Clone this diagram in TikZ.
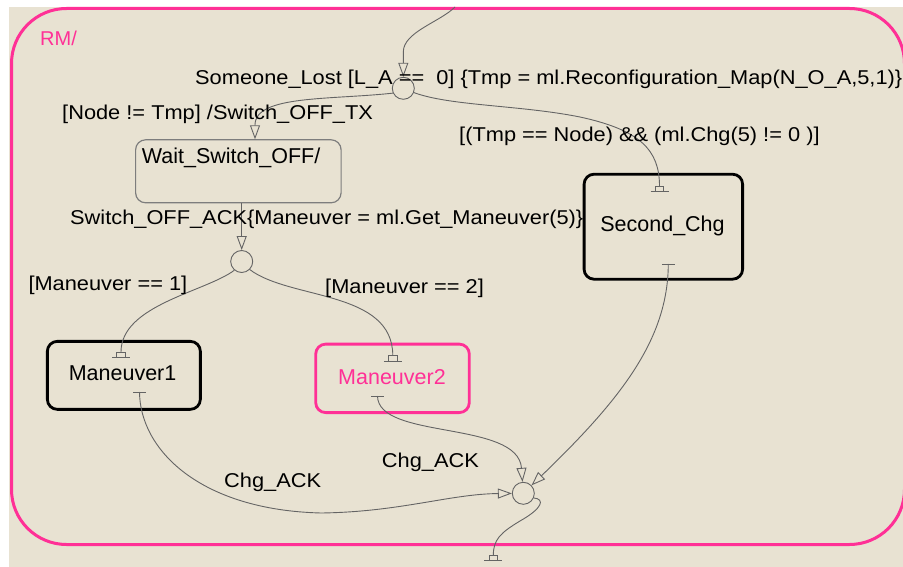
\documentclass[tikz,border=0pt]{standalone}
\usepackage{fontspec}
\setmainfont{Liberation Sans}
\newfontfamily\labelfont[FakeStretch=1.09]{Liberation Sans}
\usetikzlibrary{arrows.meta,calc}

\definecolor{sfbeige}{RGB}{232,226,210}
\definecolor{sfpink}{RGB}{255,48,150}
\definecolor{sfgrey}{RGB}{100,100,100}
\definecolor{sfboxgrey}{RGB}{125,125,125}

\tikzset{
  conn/.style={draw=sfgrey, line width=0.9pt},
  arr/.style={-{Triangle[open,length=14pt,width=10pt]}},
  junction/.style={circle, draw=sfgrey, line width=0.9pt, minimum size=22pt, inner sep=0pt},
  stbox/.style={rectangle, rounded corners=10pt, inner sep=0pt},
  lab/.style={anchor=base west, inner sep=0pt, font=\labelfont\fontsize{20}{24}\selectfont},
  sname/.style={anchor=base, inner sep=0pt, font=\fontsize{21.5}{26}\selectfont},
  entrymark/.pic={
    \draw[conn] (-4.2,0) rectangle (4.2,5.3);
    \draw[conn] (-9,5.3) -- (9,5.3);
  },
  exitmark/.pic={
    \draw[conn] (-6.5,0) -- (6.5,0);
  }
}

\begin{document}
\begin{tikzpicture}[x=1pt,y=-1pt]
  \useasboundingbox (0,0) rectangle (903,567);
  % canvas
  \fill[white] (0,0) rectangle (903,567);
  \fill[sfbeige] (9,7) rectangle (903,567);

  % parent state RM
  \node[stbox, rounded corners=55pt, draw=sfpink, line width=3pt,
        minimum width=893pt, minimum height=536pt] (rm) at (458,276.5) {};
  \node[anchor=base west, inner sep=0pt, text=sfpink,
        font=\fontsize{20}{24}\selectfont] (rmname) at (40,46) {RM/};

  % child states
  \node[stbox, draw=sfboxgrey, line width=1.2pt,
        minimum width=205.5pt, minimum height=63pt] (wait) at (238.35,171.3) {};
  \node[anchor=base west, inner sep=0pt, font=\fontsize{21.5}{26}\selectfont]
        (waitname) at (141.7,164) {Wait\_Switch\_OFF/};

  \node[stbox, draw=black, line width=2.8pt,
        minimum width=158.5pt, minimum height=105pt] (sc) at (663.35,226.7) {};
  \node[sname] (scname) at (662.5,231.7) {Second\_Chg};

  \node[stbox, draw=black, line width=2.8pt,
        minimum width=153pt, minimum height=68pt] (m1) at (123.85,375.35) {};
  \node[sname] (m1name) at (122.6,380) {Maneuver1};

  \node[stbox, draw=sfpink, line width=2.8pt,
        minimum width=153.6pt, minimum height=68.5pt] (m2) at (392.5,378.35) {};
  \node[sname, text=sfpink] (m2name) at (392,384) {Maneuver2};

  % junctions
  \node[junction] (j1) at (403.3,88.3) {};
  \node[junction] (j2) at (241.7,261.5) {};
  \node[junction] (j3) at (523.3,493.3) {};

  % transition end points
  \coordinate (topsrc) at (455,7);
  \coordinate (waitin) at (255,139.3);
  \coordinate (scin) at (659.5,186);
  \coordinate (m1in) at (121,352);
  \coordinate (m2in) at (392.8,355.7);
  \coordinate (finalin) at (493.3,555.4);
  \coordinate (m1out) at (139.5,392);
  \coordinate (m2out) at (377.5,396);
  \coordinate (scout) at (668.3,264);

  \pic at (scin) {entrymark};
  \pic at (m1in) {entrymark};
  \pic at (m2in) {entrymark};
  \pic at (finalin) {entrymark};
  \pic at (m1out) {exitmark};
  \pic at (m2out) {exitmark};
  \pic at (scout) {exitmark};

  % transitions
  \draw[conn,arr] (topsrc) .. controls (440,22) and (403.3,32) .. (403.3,52) -- (j1);
  \draw[conn,arr] (j1.205) .. controls (330,100) and (255,95) .. (255,125) -- (waitin);
  \draw[conn] (j1.-22) .. controls (450,106) and (520,105) .. (580,117)
              .. controls (640,130) and (659.5,150) .. (scin);
  \draw[conn,arr] (wait.south -| j2) -- (j2);
  \draw[conn] (j2.230) .. controls (205,292) and (121,305) .. (m1in);
  \draw[conn] (j2.-45) .. controls (290,300) and (392.8,290) .. (m2in);
  \draw[conn,arr] (m1out) .. controls (140,450) and (200,510) .. (321,513)
              .. controls (400,512) and (450,494) .. (j3);
  \draw[conn,arr] (m2out) .. controls (378,440) and (518,420) .. (j3);
  \draw[conn,arr] (scout) .. controls (668,340) and (620,400) .. (j3);
  \draw[conn] (j3.-24) .. controls (545,499) and (543,508) .. (520,521)
              .. controls (500,533) and (493.3,540) .. (finalin);

  % transition labels
  \node[lab] (t1) at (195,85)
    {Someone\_Lost [L\_A ==\ \ 0] \{Tmp = ml.Reconfiguration\_Map(N\_O\_A,5,1)\}};
  \node[lab] (t2) at (62,120) {[Node != Tmp] /Switch\_OFF\_TX};
  \node[lab] (t3) at (459,142) {[(Tmp == Node) \&\& (ml.Chg(5) != 0 )]};
  \node[lab] (t4) at (70,225) {Switch\_OFF\_ACK\{Maneuver = ml.Get\_Maneuver(5)\}};
  \node[lab] (t5) at (28.3,290.5) {[Maneuver == 1]};
  \node[lab] (t6) at (325,293) {[Maneuver == 2]};
  \node[lab] (t7) at (224,487) {Chg\_ACK};
  \node[lab] (t8) at (381.7,467.3) {Chg\_ACK};
\end{tikzpicture}
\end{document}
